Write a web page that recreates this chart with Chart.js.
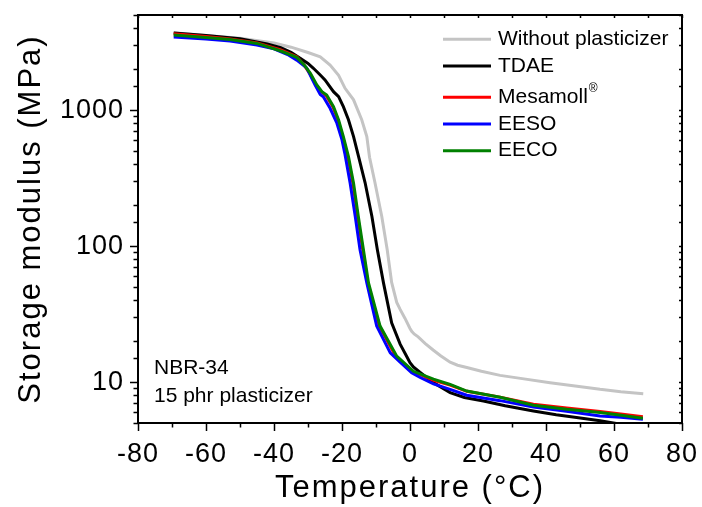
<!DOCTYPE html>
<html>
<head>
<meta charset="utf-8">
<script src="https://cdn.jsdelivr.net/npm/chart.js@4.4.1/dist/chart.umd.min.js"></script>
<style>
html,body{margin:0;padding:0;background:#fff;}
canvas{display:block;}
</style>
</head>
<body>
<canvas id="c" width="702" height="507"></canvas>
<script>
// ---------------- data ----------------
const seriesLabels = ['Without plasticizer', 'TDAE', 'Mesamoll®', 'EESO', 'EECO'];
const seriesColors = ['#c4c4c4', '#000000', '#ff0000', '#0000ff', '#008000'];

const tempGray = [-69.5,-60,-50,-40,-35,-30,-26.4,-23.5,-21,-19.1,-16.6,-14.2,-12.7,-11.9,-10.3,-8.3,-6.7,-5.4,-3.9,-2.9,-1.5,0,0.5,1.2,2.4,4.5,6.8,9,11.8,14,16.7,21,26.5,33,41.2,48,55.9,62,68.6];
const modGray  = [3700,3540,3370,3110,2900,2650,2465,2143,1800,1445,1189,849,638,450,292,165,94,54,38.5,34.2,29.5,24.8,23.6,22.6,21.5,19.2,17.2,15.6,14.0,13.3,12.8,12.0,11.2,10.6,9.9,9.4,8.84,8.5,8.22];

const tempTDAE = [-69.5,-60,-50,-42,-38,-35,-32.3,-30,-28.4,-26.4,-25,-22.5,-21,-19.6,-18.1,-16.6,-14.9,-13.2,-11.2,-9.6,-7.8,-5.4,-2.9,-1,0,1,2.9,6.9,11.8,16,21.6,28,36.3,43,49,55.9,62,68.5];
const modTDAE  = [3690,3530,3340,3060,2880,2660,2400,2200,2028,1809,1664,1365,1254,1059,849,638,432,292,165,94,53.6,27.3,19.0,15.5,13.9,12.9,11.8,9.9,8.36,7.7,7.26,6.7,6.13,5.75,5.48,5.2,4.9,4.65];

const tempMesamoll = [-69.5,-60,-52.9,-45,-38.2,-33.3,-31.2,-29.5,-27.6,-26.1,-24.7,-22.7,-21.2,-19.8,-18.3,-16.8,-15.4,-13.9,-12.4,-9,-4.1,1,6.9,11.8,16.7,26.5,36.3,46.1,55.9,62,68.5];
const modMesamoll  = [3640,3470,3330,3110,2780,2470,2150,1862,1528,1365,1280,1059,846,638,455,290,165,94,53.6,25.8,15.3,11.9,10.3,9.5,8.55,7.75,6.88,6.45,6.08,5.82,5.56];

const tempEESO = [-69.5,-60,-52.9,-45,-40,-36,-33.3,-30.4,-27.9,-26.4,-25.5,-23.5,-21.5,-20,-19.1,-17.6,-16.1,-14.7,-12.7,-9.8,-5.8,-2.9,0.5,3,6.9,11.8,16.7,26.5,36.3,46,55.9,62,68.5];
const modEESO  = [3450,3330,3215,3010,2820,2560,2330,2040,1528,1300,1254,1031,800,604,470,290,165,94,53.6,25.8,16.4,14.0,11.7,10.8,9.7,8.84,8.0,7.3,6.55,6.1,5.63,5.5,5.33];

const tempEECO = [-69.5,-60,-52.9,-45,-38.2,-33.3,-31,-29.3,-27.4,-25.9,-24.5,-22.5,-21,-19.6,-18.1,-16.6,-15.2,-13.7,-12.2,-8.8,-3.9,1,6.9,11.8,16.7,26.5,36.3,46.1,55.9,62,68.5];
const modEECO  = [3560,3420,3305,3090,2729,2440,2130,1862,1528,1365,1291,1059,846,638,455,290,165,94,53.6,25.8,15.5,12.0,10.5,9.6,8.59,7.73,6.75,6.3,5.97,5.7,5.42];

const xTickLabels = [-80,-60,-40,-20,0,20,40,60,80];
const yTickLabels = [10,100,1000];
const noteLines = ['NBR-34', '15 phr plasticizer'];

// ---------------- chart ----------------
const FONT = '"Liberation Sans", Arial, Helvetica, sans-serif';
const temps = [tempGray, tempTDAE, tempMesamoll, tempEESO, tempEECO];
const mods = [modGray, modTDAE, modMesamoll, modEESO, modEECO];
const drawOrder = [4, 3, 2, 1, 0];

const datasets = seriesLabels.map((lab, i) => ({
  label: lab,
  data: temps[i].map((t, k) => ({x: t, y: mods[i][k]})),
  borderColor: seriesColors[i],
  backgroundColor: seriesColors[i],
  borderWidth: 3,
  pointRadius: 0,
  tension: 0,
  fill: false,
  order: drawOrder[i]
}));

function noPad(s) { s.paddingLeft = 0; s.paddingRight = 0; s.paddingTop = 0; s.paddingBottom = 0; }

const spacing = {
  id: 'spacing',
  afterUpdate(chart) {
    for (const id of ['x', 'y']) {
      const s = chart.scales[id];
      if (s && !s._spaced) {
        const orig = s.drawTitle.bind(s);
        s.drawTitle = function () {
          const c = this.ctx;
          c.save();
          c.letterSpacing = '2px';
          orig();
          c.restore();
        };
        s._spaced = true;
      }
    }
  },
  beforeDraw(chart) { chart.ctx.letterSpacing = '1px'; }
};

const frameTicks = {
  id: 'frameTicks',
  afterDraw(chart) {
    const {ctx, chartArea: a, scales: {x, y}} = chart;
    ctx.save();
    ctx.letterSpacing = '0px';
    ctx.strokeStyle = '#000';
    ctx.lineWidth = 1.5;
    ctx.beginPath();
    for (let v = x.min; v <= x.max + 1e-9; v += 10) {
      const px = Math.round(x.getPixelForValue(v)) + 0.5;
      const major = xTickLabels.includes(v);
      ctx.moveTo(px, a.bottom);
      ctx.lineTo(px, a.bottom + (major ? 8 : 4.5));
      ctx.moveTo(px, a.top);
      ctx.lineTo(px, a.top + 3);
    }
    for (const t of y.ticks) {
      const py = Math.round(y.getPixelForValue(t.value)) + 0.5;
      const major = yTickLabels.includes(t.value);
      ctx.moveTo(a.left, py);
      ctx.lineTo(a.left - (major ? 8 : 4.5), py);
      ctx.moveTo(a.right, py);
      ctx.lineTo(a.right - 3, py);
    }
    ctx.stroke();
    ctx.lineWidth = 2;
    ctx.strokeRect(a.left, a.top, a.right - a.left, a.bottom - a.top);

    // legend
    const rows = [39.3, 66, 97.3, 124, 150.7];
    ctx.textBaseline = 'middle';
    ctx.textAlign = 'left';
    seriesLabels.forEach((lab, i) => {
      ctx.strokeStyle = seriesColors[i];
      ctx.lineWidth = 3;
      ctx.beginPath();
      ctx.moveTo(443, rows[i]);
      ctx.lineTo(491, rows[i]);
      ctx.stroke();
      ctx.fillStyle = '#000';
      ctx.font = '21px ' + FONT;
      const parts = lab.split('®');
      ctx.fillText(parts[0], 498, rows[i]);
      if (parts.length > 1) {
        const w = ctx.measureText(parts[0]).width;
        ctx.font = '12px ' + FONT;
        ctx.fillText('®', 498 + w + 1, rows[i] - 9);
      }
    });

    // note
    ctx.font = '21px ' + FONT;
    ctx.textBaseline = 'alphabetic';
    ctx.fillStyle = '#000';
    ctx.fillText(noteLines[0], 154, 374);
    ctx.fillText(noteLines[1], 154, 402);
    ctx.restore();
  }
};

new Chart(document.getElementById('c'), {
  type: 'line',
  data: {datasets},
  options: {
    responsive: false,
    animation: false,
    devicePixelRatio: 1,
    layout: {padding: {top: 15, right: 20, left: 0, bottom: 0}},
    plugins: {legend: {display: false}, tooltip: {enabled: false}},
    scales: {
      x: {
        type: 'linear',
        min: -80, max: 80,
        afterFit: (s) => { s.height = 84; noPad(s); },
        grid: {display: false, drawTicks: false},
        border: {display: false},
        ticks: {
          stepSize: 20,
          autoSkip: false,
          maxRotation: 0,
          padding: 15,
          color: '#000',
          font: {family: FONT, size: 27},
          callback: (v) => xTickLabels.includes(v) ? String(v) : ''
        },
        title: {display: true, text: 'Temperature (°C)', color: '#000',
          font: {family: FONT, size: 31}, padding: {top: 0, bottom: 0}}
      },
      y: {
        type: 'logarithmic',
        min: 5, max: 5000,
        afterFit: (s) => { s.width = 138; noPad(s); },
        grid: {display: false, drawTicks: false},
        border: {display: false},
        ticks: {
          autoSkip: false,
          padding: 14,
          color: '#000',
          font: {family: FONT, size: 27},
          callback: (v) => yTickLabels.includes(v) ? String(v) : ''
        },
        title: {display: true, text: 'Storage modulus (MPa)', color: '#000',
          font: {family: FONT, size: 31}, padding: {top: 13, bottom: 0}}
      }
    }
  },
  plugins: [spacing, frameTicks]
});
</script>
</body>
</html>
